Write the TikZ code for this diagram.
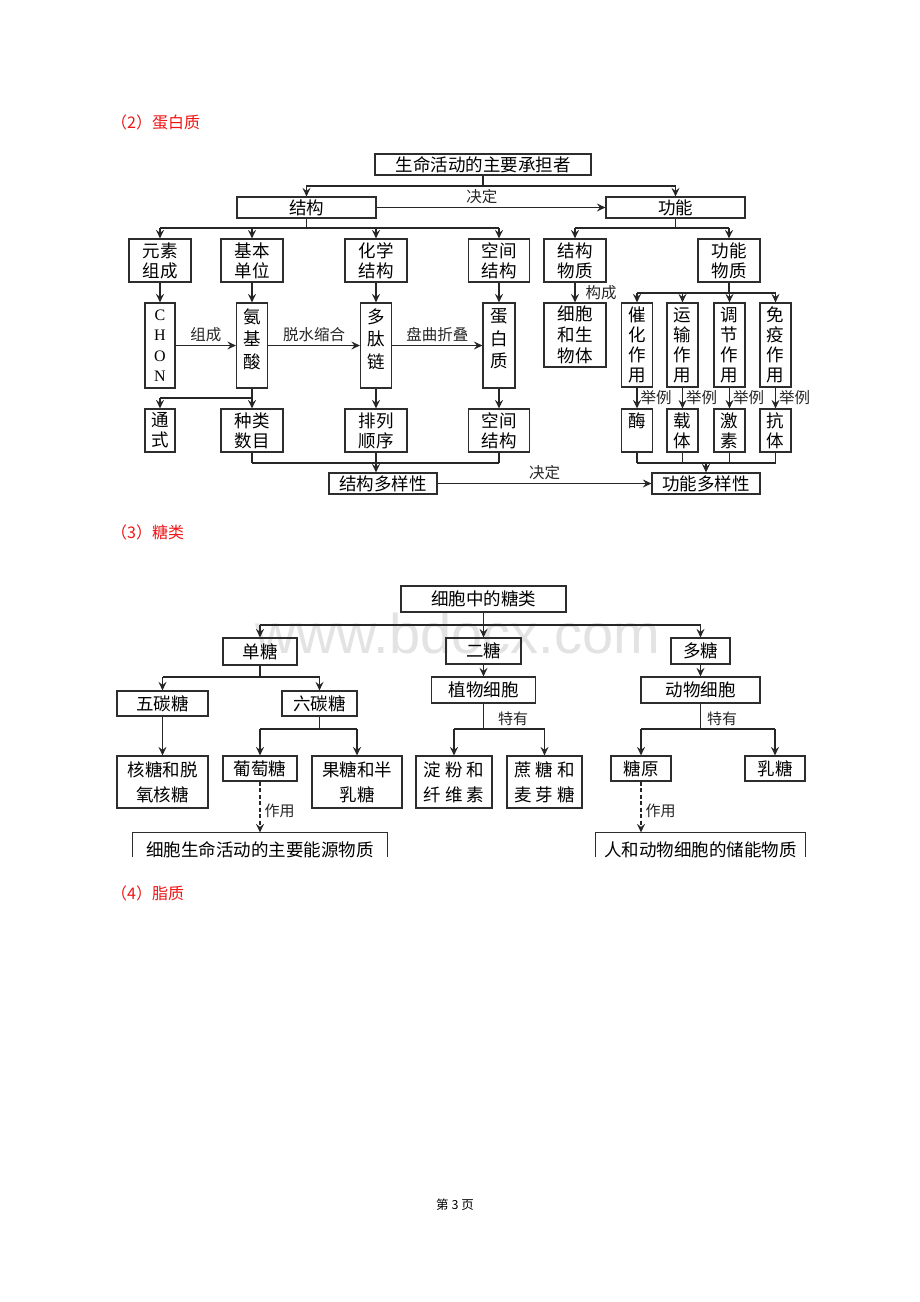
\documentclass[tikz,border=0pt]{standalone}
\usepackage{fontspec}
\setmainfont{Noto Sans CJK SC}
\newfontfamily\chonfont{Liberation Serif}
\newfontfamily\markfont{Liberation Sans}
\usetikzlibrary{arrows.meta,calc}
\definecolor{headred}{RGB}{240,20,20}
\definecolor{boxgray}{RGB}{45,45,45}
\tikzstyle{box}=[draw=boxgray,line width=1.2pt,inner sep=0pt,align=center,font=\fontsize{17.5}{20}\selectfont]
\tikzstyle{tall}=[box,font=\fontsize{17.5}{22.5}\selectfont]
\tikzstyle{ln}=[line width=1.4pt,black!85]
\tikzstyle{arr}=[ln,-{Stealth[length=8.5pt,width=8pt,inset=3pt]}]
\tikzstyle{lbl}=[inner sep=1pt,font=\fontsize{15.5}{17}\selectfont]
\tikzstyle{lbls}=[inner sep=1pt,font=\fontsize{15}{17}\selectfont]
\tikzstyle{head}=[anchor=west,inner sep=0pt,text=headred,font=\fontsize{16}{18}\selectfont]
\tikzset{sz/.style 2 args={minimum width=#1pt,minimum height=#2pt}}

\begin{document}
\begin{tikzpicture}[x=1pt,y=-1pt]
  \useasboundingbox (0,0) rectangle (920,1302);
  \node[text=black!11,font=\markfont\fontsize{56}{60}\selectfont] (wm) at (458,633) {www.bdocx.com};

  \node[head] (h2) at (111,122) {（2）蛋白质};
  \node[head] (h3) at (111,532) {（3）糖类};
  \node[head] (h4) at (111,893) {（4）脂质};
  \node[font=\fontsize{12.5}{14}\selectfont] (pg) at (455,1205) {第 3 页};

  % 蛋白质
  \node[box,sz={216}{21}] (top)  at (483,164.5)   {生命活动的主要承担者};
  \node[box,sz={139}{21}] (jg)   at (306.5,207.5) {结构};
  \node[box,sz={139}{21}] (gn)   at (675.5,207.5) {功能};
  \node[box,sz={62}{43}]  (yszc) at (160,260.5)   {元素\\组成};
  \node[box,sz={62}{43}]  (jbdw) at (252,260.5)   {基本\\单位};
  \node[box,sz={62}{43}]  (hxjg) at (376,260.5)   {化学\\结构};
  \node[box,sz={61}{43}]  (kjjg) at (499,260.5)   {空间\\结构};
  \node[box,sz={62}{43}]  (jgwz) at (575,260.5)   {结构\\物质};
  \node[box,sz={62}{43}]  (gnwz) at (729,260.5)   {功能\\物质};

  \node[box,sz={30}{85},font=\chonfont\fontsize{16}{20.5}\selectfont] (chon) at (160,345.5) {C\\H\\O\\N};
  \node[tall,sz={31}{85}] (ajs)  at (252,345.5) {氨\\基\\酸\\[-8pt]\mbox{}};
  \node[tall,sz={31}{85}] (dtl)  at (376,345.5) {多\\肽\\链\\[-8pt]\mbox{}};
  \node[tall,sz={32}{85}] (dbz)  at (499,345.5) {蛋\\白\\质\\[-8pt]\mbox{}};
  \node[box,sz={62}{64},font=\fontsize{17.5}{21}\selectfont] (xbsw) at (575,335) {细胞\\和生\\物体};
  \node[box,sz={31}{84}]  (chzy) at (637,345)   {催\\化\\作\\用};
  \node[box,sz={31}{84}]  (yszy) at (682.5,345) {运\\输\\作\\用};
  \node[box,sz={31}{84}]  (tjzy) at (729.5,345) {调\\节\\作\\用};
  \node[box,sz={31}{84}]  (myzy) at (775.5,345) {免\\疫\\作\\用};

  \node[box,sz={30}{43}]  (ts)    at (160,430.5)   {通\\式};
  \node[box,sz={62}{43}]  (zlsm)  at (252,430.5)   {种类\\数目};
  \node[box,sz={62}{43}]  (plsx)  at (376,430.5)   {排列\\顺序};
  \node[box,sz={61}{43}]  (kjjg2) at (499,430.5)   {空间\\结构};
  \node[box,sz={31}{43}]  (mei)   at (637,430.5)   {酶\\\mbox{}};
  \node[box,sz={31}{43}]  (zt)    at (682.5,430.5) {载\\体};
  \node[box,sz={31}{43}]  (js)    at (729.5,430.5) {激\\素};
  \node[box,sz={31}{43}]  (kt)    at (775.5,430.5) {抗\\体};
  \node[box,sz={108}{21}] (jgdy)  at (383,483.5)   {结构多样性};
  \node[box,sz={108}{21}] (gndy)  at (706,483.5)   {功能多样性};

  \coordinate (t1) at (483,186);
  \coordinate (t2) at (306.5,228);
  \coordinate (t3) at (675.5,228);
  \coordinate (t4) at (729,293);
  \coordinate (t5) at (252,398);
  \coordinate (t6) at (376,463);
  \coordinate (t7) at (706,463);

  \draw[ln] (top) -- (t1);
  \draw[arr] (t1) -| (jg);
  \draw[arr] (t1) -| (gn);
  \draw[arr] (jg) -- (gn) node[lbl,pos=0.46,above=2pt] {决定};

  \draw[ln] (jg) -- (t2);
  \draw[ln] (yszc.north |- t2) -- (kjjg.north |- t2);
  \foreach \to in {yszc,jbdw,hxjg,kjjg}
      \draw[arr] (\to.north |- t2) -- (\to);
  \draw[ln] (gn) -- (t3);
  \draw[ln] (jgwz.north |- t3) -- (gnwz.north |- t3);
  \foreach \to in {jgwz,gnwz}
      \draw[arr] (\to.north |- t3) -- (\to);

  \foreach \from/\to in {yszc/chon,jbdw/ajs,hxjg/dtl,kjjg/dbz,dtl/plsx,dbz/kjjg2}
      \draw[arr] (\from) -- (\to);
  \draw[arr] (jgwz) -- (xbsw) node[lbl,midway,right=9pt] {构成};
  \draw[arr] (chon) -- (ajs) node[lbl,midway,above=2pt] {组成};
  \draw[arr] (ajs) -- (dtl) node[lbl,midway,above=2pt] {脱水缩合};
  \draw[arr] (dtl) -- (dbz) node[lbl,midway,above=2pt] {盘曲折叠};

  \draw[ln] (gnwz) -- (t4);
  \draw[ln] (chzy.north |- t4) -- (myzy.north |- t4);
  \foreach \to in {chzy,yszy,tjzy,myzy}
      \draw[arr] (\to.north |- t4) -- (\to);
  \foreach \from/\to in {chzy/mei,yszy/zt,tjzy/js,myzy/kt}
      \draw[arr] (\from) -- (\to) node[lbl,midway,right=2pt] {举例};

  \draw[ln] (ajs) -- (t5);
  \draw[ln] (ts.north |- t5) -- (t5);
  \foreach \to in {ts,zlsm}
      \draw[arr] (\to.north |- t5) -- (\to);

  \foreach \from in {zlsm,kjjg2}
      \draw[ln] (\from) -- (\from.south |- t6);
  \draw[ln] (zlsm.south |- t6) -- (kjjg2.south |- t6);
  \draw[arr] (plsx) -- (plsx.south |- jgdy.north);
  \foreach \from in {mei,zt,js,kt}
      \draw[ln] (\from) -- (\from.south |- t7);
  \draw[ln] (mei.south |- t7) -- (kt.south |- t7);
  \draw[arr] (t7) -- (gndy);
  \draw[arr] (jgdy) -- (gndy) node[lbl,midway,above=2pt] {决定};

  % 糖类
  \node[box,sz={165}{26}] (tl)  at (483.5,599) {细胞中的糖类};
  \node[box,sz={74}{27}]  (dt)  at (260,651.5) {单糖};
  \node[box,sz={75}{26}]  (et)  at (483.5,651) {二糖};
  \node[box,sz={59}{26}]  (duo) at (700.5,651) {多糖};
  \node[box,sz={104}{26}] (zw)  at (483.5,690) {植物细胞};
  \node[box,sz={119}{26}] (dw)  at (700.5,690) {动物细胞};
  \node[box,sz={91}{25}]  (wt)  at (162.5,703.5) {五碳糖};
  \node[box,sz={75}{25}]  (lt)  at (319.5,703.5) {六碳糖};
  \node[box,sz={91}{52},font=\fontsize{17.5}{25}\selectfont] (hz) at (162.5,782) {核糖和脱\\氧核糖};
  \node[box,sz={74}{25}]  (pt)  at (260,768.5) {葡萄糖};
  \node[box,sz={90}{52},font=\fontsize{17.5}{25}\selectfont] (gt) at (357,782) {果糖和半\\乳糖};
  \node[box,sz={76}{52},font=\fontsize{17.5}{25}\selectfont] (dx) at (454,782) {淀\hspace{4pt}粉\hspace{4pt}和\\纤\hspace{4pt}维\hspace{4pt}素};
  \node[box,sz={75}{52},font=\fontsize{17.5}{25}\selectfont] (zh) at (544.5,782) {蔗\hspace{4pt}糖\hspace{4pt}和\\麦\hspace{4pt}芽\hspace{4pt}糖};
  \node[box,sz={60}{25}]  (ty)  at (641,768.5) {糖原};
  \node[box,sz={60}{25}]  (rt)  at (775,768.5) {乳糖};
  \node[box,draw=none,sz={254}{34}] (ny) at (260,850) {细胞生命活动的主要能源物质};
  \node[box,draw=none,sz={209}{34}] (cn) at (700.5,850) {人和动物细胞的储能物质};
  \draw[boxgray,line width=1.2pt] (ny.north west) ++(0,25) -- (ny.north west) -- (ny.north east) -- ++(0,25);
  \draw[boxgray,line width=1.2pt] (cn.north west) ++(0,25) -- (cn.north west) -- (cn.north east) -- ++(0,25);

  \coordinate (s1) at (483.5,625);
  \coordinate (s2) at (260,677);
  \coordinate (s3) at (319.5,729);
  \coordinate (s4) at (483.5,729);
  \coordinate (s5) at (700.5,729);

  \draw[ln] (tl) -- (s1);
  \draw[ln] (dt.north |- s1) -- (duo.north |- s1);
  \foreach \to in {dt,et,duo}
      \draw[arr] (\to.north |- s1) -- (\to);
  \foreach \from/\to in {et/zw,duo/dw,wt/hz}
      \draw[arr] (\from) -- (\to);

  \draw[ln] (dt) -- (s2);
  \draw[ln] (wt.north |- s2) -- (lt.north |- s2);
  \foreach \to in {wt,lt}
      \draw[arr] (\to.north |- s2) -- (\to);
  \draw[ln] (lt) -- (s3);
  \draw[ln] (pt.north |- s3) -- (gt.north |- s3);
  \foreach \to in {pt,gt}
      \draw[arr] (\to.north |- s3) -- (\to);

  \draw[ln] (zw) -- (s4) node[lbls,pos=0.6,right=13pt] {特有};
  \draw[ln] (dx.north |- s4) -- (zh.north |- s4);
  \foreach \to in {dx,zh}
      \draw[arr] (\to.north |- s4) -- (\to);
  \draw[ln] (dw) -- (s5) node[lbls,pos=0.6,right=5pt] {特有};
  \draw[ln] (ty.north |- s5) -- (rt.north |- s5);
  \foreach \to in {ty,rt}
      \draw[arr] (\to.north |- s5) -- (\to);

  \draw[arr,dash pattern=on 4pt off 2.5pt] (pt) -- (pt.south |- ny.north) node[lbls,pos=0.58,right=3pt] {作用};
  \draw[arr,dash pattern=on 4pt off 2.5pt] (ty) -- (ty.south |- cn.north) node[lbls,pos=0.58,right=3pt] {作用};
\end{tikzpicture}
\end{document}
